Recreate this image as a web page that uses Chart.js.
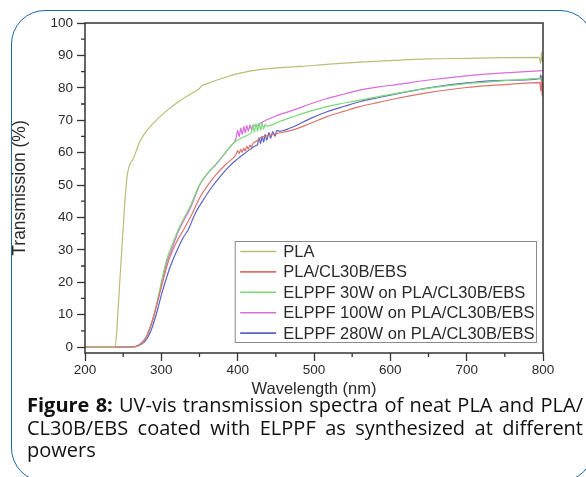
<!DOCTYPE html>
<html>
<head>
<meta charset="utf-8">
<script src="https://cdn.jsdelivr.net/npm/chart.js@4.4.1/dist/chart.umd.min.js"></script>
<style>
  html, body { margin: 0; padding: 0; background: #fff; }
  body { width: 586px; height: 477px; position: relative; overflow: hidden; }
  .card {
    position: absolute; left: 11px; top: 10px; width: 583px; height: 472px;
    border: 1.6px solid #2166a9; border-radius: 34px; box-sizing: border-box;
  }
  #chart { position: absolute; left: 0; top: 0; }
  .caption {
    position: absolute; left: 27px; top: 394px; width: 556px;
    font-family: "Open Sans", sans-serif; font-size: 20px; line-height: 22.5px; color: #111;
  }
  .caption div { white-space: nowrap; text-align: justify; text-align-last: justify; }
  .caption div.last { text-align-last: left; }
</style>
</head>
<body>
<div class="card"></div>
<canvas id="chart" width="586" height="405"></canvas>
<div class="caption">
  <div><b>Figure 8:</b> UV-vis transmission spectra of neat PLA and PLA/</div>
  <div>CL30B/EBS coated with ELPPF as synthesized at different</div>
  <div class="last">powers</div>
</div>
<script>
// axis ticks
const xMajor = [200, 300, 400, 500, 600, 700, 800];
const xMinor = [250, 350, 450, 550, 650, 750];
const yMajor = [0, 10, 20, 30, 40, 50, 60, 70, 80, 90, 100];
const yMinor = [5, 15, 25, 35, 45, 55, 65, 75, 85, 95];

// PLA
const plaNm = [200, 239, 241, 243, 246, 249, 252, 254, 256, 259, 263, 272, 280, 290, 300, 310, 320, 333, 345, 350, 353, 360, 373, 385, 394, 405, 420, 440, 460, 482, 520, 560, 600, 650, 700, 750, 795, 797, 798, 799, 800];
const plaT = [0, 0, 3, 10, 22, 33, 44, 50, 54, 56.5, 58, 63.5, 66.5, 69.2, 71.5, 73.5, 75.3, 77.3, 79, 79.8, 80.6, 81.3, 82.4, 83.3, 84, 84.6, 85.3, 85.9, 86.3, 86.6, 87.3, 87.9, 88.4, 88.9, 89.1, 89.3, 89.4, 87.5, 91, 88, 89.5];

// PLA/CL30B/EBS
const baseNm = [200, 262, 270, 276, 281, 286, 290, 295, 300, 305, 310, 320, 329, 340, 351, 362, 373, 385, 395, 398, 400, 402, 404, 406, 408, 410, 412, 414, 416, 418, 420, 425, 429, 450, 473, 495, 517, 540, 560, 585, 608, 650, 700, 750, 796, 797, 798, 799, 800];
const baseT = [0, 0, 0.5, 1.5, 3.5, 6.5, 9.5, 14, 18.5, 23, 27, 32.5, 36.1, 41, 46.4, 50.3, 53.6, 56.5, 58.5, 59.5, 60.6, 59.7, 61, 60.1, 61.4, 60.5, 61.9, 61.1, 62.3, 61.7, 62.8, 63.6, 64.4, 65.8, 67, 69, 71.1, 72.8, 74.2, 75.5, 76.7, 78.5, 80.1, 81, 81.6, 79, 82.5, 77.3, 81.8];

// ELPPF 30W
const w30Nm = [200, 262, 270, 276, 281, 286, 290, 295, 300, 307, 315, 322, 330, 338, 345, 351, 362, 373, 385, 390, 397, 405, 412, 416, 418, 420, 422, 424, 426, 428, 430, 432, 434, 436, 438, 455, 473, 495, 517, 540, 560, 585, 608, 650, 700, 750, 800];
const w30T = [0, 0, 0.5, 1.5, 3.2, 6.2, 9.5, 14.5, 20, 27, 32, 36.1, 40, 43.5, 47.5, 50.5, 54, 56.8, 60.2, 61.8, 63.4, 64.5, 65.3, 65.8, 66.1, 68.6, 66.3, 68.9, 66.6, 69.1, 66.9, 69, 67.3, 68.7, 68.2, 69.6, 71.1, 72.8, 74.2, 75.3, 76.2, 77.3, 78.3, 79.9, 81.3, 82.2, 83];

// ELPPF 100W
const w100Nm = [200, 262, 270, 276, 281, 286, 290, 295, 300, 307, 315, 322, 330, 338, 345, 351, 362, 373, 385, 390, 396, 398, 400, 402, 404, 406, 408, 410, 412, 414, 416, 418, 420, 424, 429, 450, 473, 495, 517, 540, 560, 585, 608, 650, 700, 750, 800];
const w100T = [0, 0, 0.6, 1.8, 3.5, 6.5, 9.5, 14, 19, 26, 31, 35.5, 39.3, 42.8, 47, 50.3, 54, 56.7, 60.3, 61.8, 63.4, 64.6, 66.9, 64.9, 67.6, 65.6, 68.1, 66.1, 68.3, 66.6, 68.6, 67.1, 68.5, 68.2, 69, 71.3, 73.1, 75, 76.7, 78.1, 79.3, 80.3, 81, 82.4, 83.7, 84.6, 85.3];

// ELPPF 280W
const w280Nm = [200, 263, 270, 276, 281, 286, 290, 295, 300, 305, 312, 320, 328, 335, 345, 355, 366, 377, 388, 398, 405, 412, 418, 424, 426, 428, 430, 432, 434, 436, 438, 441, 443, 446, 449, 451, 455, 473, 495, 517, 540, 560, 585, 608, 650, 700, 750, 796, 797, 798, 799, 800];
const w280T = [0, 0, 0.4, 1.2, 2.5, 4.8, 7.5, 11.5, 16, 20, 25, 29.5, 33.5, 36.1, 41.5, 45.4, 49.3, 52.6, 55.5, 57.7, 59, 60.3, 61.3, 62.2, 62.5, 64.6, 62.8, 65.1, 63.2, 65.6, 63.8, 66.2, 64.4, 66.5, 65, 66.8, 66.6, 68, 70.5, 72.6, 74.3, 75.7, 77, 78.1, 80, 81.5, 82.3, 82.8, 84, 82, 83.5, 83];

const series = [
  { label: 'PLA', nm: plaNm, t: plaT, color: '#bcbc78' },
  { label: 'PLA/CL30B/EBS', nm: baseNm, t: baseT, color: '#d9736c' },
  { label: 'ELPPF 30W on PLA/CL30B/EBS', nm: w30Nm, t: w30T, color: '#7ad87a' },
  { label: 'ELPPF 100W on PLA/CL30B/EBS', nm: w100Nm, t: w100T, color: '#d86cdc' },
  { label: 'ELPPF 280W on PLA/CL30B/EBS', nm: w280Nm, t: w280T, color: '#5c62c2' }
];

const AXIS = '#333';
const TEXT = '#2a2a2a';
Chart.defaults.font.family = '"Liberation Sans", Arial, sans-serif';

// box around the plot, short minor ticks and the inset legend
const frame = {
  id: 'frame',
  afterDraw(chart) {
    const { ctx, chartArea: a, scales } = chart;
    ctx.save();
    ctx.strokeStyle = AXIS;
    ctx.lineWidth = 1.5;
    ctx.strokeRect(a.left, a.top, a.right - a.left, a.bottom - a.top);

    ctx.lineWidth = 1.3;
    ctx.beginPath();
    xMinor.forEach(v => {
      const px = scales.x.getPixelForValue(v);
      ctx.moveTo(px, a.bottom);
      ctx.lineTo(px, a.bottom + 4);
    });
    yMinor.forEach(v => {
      const py = scales.y.getPixelForValue(v);
      ctx.moveTo(a.left - 4, py);
      ctx.lineTo(a.left, py);
    });
    ctx.stroke();

    // legend
    const sets = chart.data.datasets;
    ctx.font = '16.5px "Liberation Sans", Arial, sans-serif';
    const textW = Math.max(...sets.map(d => ctx.measureText(d.label).width));
    const rowH = 20.4;
    const w = 5 + 36 + 7 + textW + 2;
    const h = rowH * sets.length - 1;
    const right = a.right - 6.5;
    const bottom = a.bottom - 10.5;
    const left = right - w;
    const top = bottom - h;
    ctx.fillStyle = '#fff';
    ctx.fillRect(left, top, w, h);
    ctx.strokeStyle = '#8a8a8a';
    ctx.lineWidth = 1;
    ctx.strokeRect(left, top, w, h);
    ctx.textBaseline = 'middle';
    sets.forEach((d, i) => {
      const y = top + 10 + i * rowH;
      ctx.strokeStyle = d.borderColor;
      ctx.lineWidth = 1.6;
      ctx.beginPath();
      ctx.moveTo(left + 5, y);
      ctx.lineTo(left + 41, y);
      ctx.stroke();
      ctx.fillStyle = TEXT;
      ctx.fillText(d.label, left + 48, y + 1);
    });
    ctx.restore();
  }
};

new Chart(document.getElementById('chart'), {
  type: 'line',
  data: {
    datasets: series.map(s => ({
      label: s.label,
      data: s.nm.map((x, i) => ({ x: x, y: s.t[i] })),
      borderColor: s.color,
      borderWidth: 1.2,
      pointRadius: 0,
      cubicInterpolationMode: 'monotone',
      fill: false
    }))
  },
  options: {
    responsive: false,
    animation: false,
    devicePixelRatio: 1,
    layout: { padding: { top: 23, right: 43, bottom: 7, left: 0 } },
    plugins: { legend: { display: false }, tooltip: { enabled: false } },
    scales: {
      x: {
        type: 'linear',
        min: 200,
        max: 800,
        border: { display: false },
        grid: { drawOnChartArea: false, drawTicks: true, tickLength: 8, tickWidth: 1.3, tickColor: AXIS },
        ticks: { padding: 1, autoSkip: false, maxRotation: 0, color: TEXT, font: { size: 13.5 } },
        afterBuildTicks: s => { s.ticks = xMajor.map(v => ({ value: v })); },
        afterFit: s => { s.height = 45; },
        title: {
          display: true, text: 'Wavelength (nm)', color: TEXT,
          font: { size: 16.5, lineHeight: 1 }, padding: { top: 0, bottom: 0 }
        }
      },
      y: {
        type: 'linear',
        min: -1.85,
        max: 100,
        border: { display: false },
        grid: { drawOnChartArea: false, drawTicks: true, tickLength: 8, tickWidth: 1.3, tickColor: AXIS },
        ticks: { padding: 4, autoSkip: false, color: TEXT, font: { size: 13.5 } },
        afterBuildTicks: s => { s.ticks = yMajor.map(v => ({ value: v })); },
        afterFit: s => { s.width = 85; },
        title: {
          display: true, text: 'Transmission (%)', color: TEXT,
          font: { size: 17.5, lineHeight: 1 }, padding: { top: 11, bottom: 0 }
        }
      }
    }
  },
  plugins: [frame]
});
</script>
</body>
</html>
